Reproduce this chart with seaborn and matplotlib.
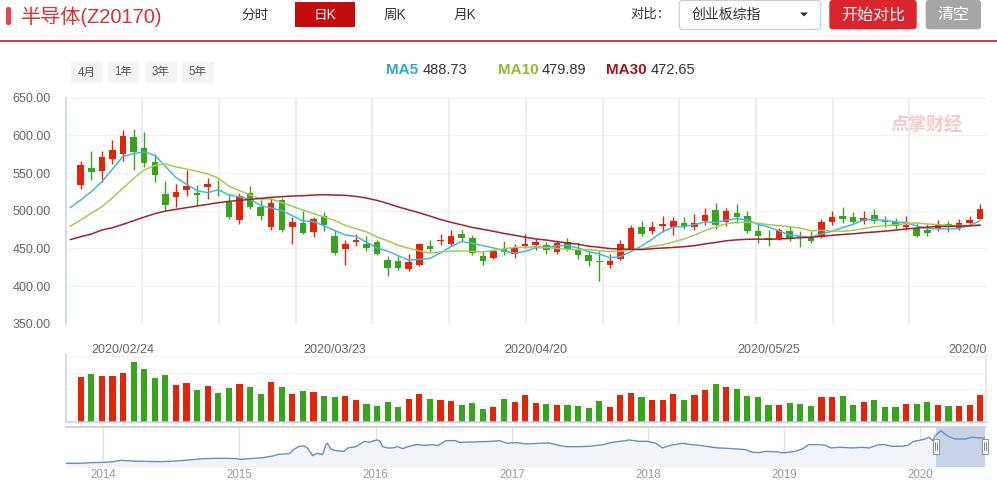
import numpy as np
import pandas as pd
import matplotlib
matplotlib.use("Agg")
import matplotlib.pyplot as plt
import matplotlib.transforms as mtransforms
import matplotlib.dates as mdates
from matplotlib.patches import FancyBboxPatch, Rectangle, Polygon
import seaborn as sns

# ---------------- data ----------------
title = "半导体(Z20170)"
period_tabs = ["分时", "日K", "周K", "月K"]
range_buttons = ["4月", "1年", "3年", "5年"]
compare_label = "对比："
compare_index = "创业板综指"
btn_start = "开始对比"
btn_clear = "清空"
watermark = "点掌财经"

first_day = "2020-02-18"
last_day = "2020-06-22"
holidays = ["2020-04-06", "2020-05-01", "2020-05-04", "2020-05-05"]

opens = [534.5, 556.2, 552.7, 568.6, 575.2, 597.3, 583.6, 564.2, 521.7, 518.1,
         527.4, 523.0, 531.4, 527.9, 511.5, 487.6, 523.0, 504.4, 478.3, 513.7,
         478.3, 483.2, 471.7, 492.9, 465.9, 449.1, 458.4, 455.3, 458.0, 434.1,
         432.7, 422.1, 427.4, 452.7, 459.7, 456.2, 468.6, 463.3, 439.4, 437.2,
         448.7, 442.9, 452.7, 454.4, 454.9, 445.1, 458.8, 449.6, 440.7, 432.7,
         427.4, 435.8, 449.1, 477.9, 473.0, 479.6, 478.0, 483.2, 478.0, 485.8,
         500.4, 485.0, 496.5, 492.5, 472.6, 464.2, 461.9, 472.6, 465.9, 463.3,
         465.0, 485.0, 492.5, 491.1, 486.3, 493.8, 485.8, 484.5, 478.3, 477.0,
         473.9, 475.7, 481.9, 477.0, 483.6, 488.9]
highs = [565.5, 578.8, 578.8, 593.4, 606.6, 608.0, 604.0, 574.8, 538.9, 535.0,
         553.5, 533.6, 542.9, 540.3, 521.7, 523.4, 532.3, 513.7, 516.8, 516.8,
         491.6, 499.1, 491.6, 497.8, 473.9, 460.6, 468.6, 465.9, 461.5, 439.4,
         439.4, 442.9, 457.1, 461.5, 468.6, 473.9, 473.9, 467.3, 446.0, 447.3,
         459.3, 455.3, 468.6, 462.8, 458.0, 459.3, 463.3, 458.8, 446.0, 446.5,
         442.5, 460.6, 480.5, 485.8, 485.8, 492.5, 491.1, 491.1, 495.6, 504.0,
         509.7, 503.1, 508.4, 499.1, 483.6, 473.9, 476.5, 479.2, 472.6, 472.6,
         488.9, 499.1, 504.4, 497.8, 499.1, 501.8, 492.5, 489.8, 492.5, 483.6,
         482.3, 487.2, 485.8, 488.5, 492.5, 508.4]
lows = [528.3, 540.3, 538.0, 562.4, 565.9, 553.5, 558.0, 538.0, 500.4, 504.9,
        519.0, 507.0, 515.5, 519.0, 488.9, 482.7, 502.6, 487.6, 473.9, 471.7,
        455.7, 468.6, 465.0, 473.0, 441.1, 427.9, 453.1, 446.5, 441.1, 413.3,
        420.8, 419.9, 426.1, 444.7, 454.0, 454.0, 459.7, 441.1, 427.9, 435.4,
        441.1, 437.2, 450.0, 447.8, 442.5, 442.5, 447.0, 435.8, 426.5, 406.7,
        423.9, 434.5, 447.3, 465.9, 469.0, 471.7, 467.3, 475.7, 473.9, 480.5,
        475.7, 479.2, 483.6, 470.4, 457.1, 453.1, 460.6, 459.7, 451.8, 457.1,
        464.2, 480.5, 483.6, 482.3, 482.3, 483.6, 478.3, 475.2, 473.9, 465.0,
        466.4, 473.0, 471.7, 473.9, 479.2, 488.5]
closes = [560.2, 551.3, 570.8, 580.1, 598.7, 577.9, 563.3, 547.3, 507.5, 524.3,
          532.3, 520.8, 535.0, 526.1, 491.1, 519.0, 504.9, 492.9, 509.7, 474.8,
          484.5, 470.4, 488.5, 481.0, 443.8, 455.3, 460.6, 450.4, 442.5, 423.9,
          423.9, 431.4, 455.3, 448.7, 460.6, 465.9, 464.2, 444.2, 433.2, 446.0,
          445.1, 450.0, 455.3, 458.0, 447.8, 456.7, 449.6, 441.1, 433.2, 431.9,
          432.7, 455.3, 476.5, 469.0, 477.9, 482.3, 485.8, 479.2, 483.2, 494.2,
          480.5, 499.1, 491.6, 473.0, 466.0, 461.5, 473.9, 464.2, 464.6, 459.3,
          484.5, 491.1, 489.0, 485.0, 489.8, 486.3, 485.0, 479.6, 480.5, 466.9,
          470.4, 481.9, 479.2, 483.2, 487.2, 501.8]
volumes = [45, 48, 46, 46, 49, 60, 53, 44, 47, 37, 39, 32, 36, 29, 34, 38, 35, 28,
           40, 35, 28, 31, 30, 26, 25, 26, 22, 18, 16, 20, 15, 23, 28, 23, 22, 21,
           17, 19, 13, 15, 23, 20, 27, 19, 18, 17, 17, 16, 14, 21, 15, 27, 29, 25,
           22, 22, 28, 22, 27, 32, 38, 35, 33, 26, 25, 17, 17, 19, 18, 16, 25, 25,
           26, 17, 20, 22, 15, 15, 18, 18, 20, 17, 16, 16, 17, 27]

# moving-average values before enough closes are on screen (from 2020-02-17 on)
ma5_head = [504.0, 514.2, 525.3, 538.5, 555.0]
ma10_head = [479.3, 487.7, 496.6, 505.3, 517.0, 530.0, 543.0, 554.0, 560.0, 562.0]
ma30_head = [461.6, 465.5, 469.0, 474.4, 477.4, 481.9, 486.7, 491.6, 496.0, 499.5,
             501.8, 504.0, 506.2, 508.4, 510.6, 512.4, 513.7, 515.0, 516.4, 517.7,
             518.6, 519.5, 519.9, 520.8, 521.2, 520.8, 520.4, 519.0, 516.8, 513.7]
ma_names = ["MA5", "MA10", "MA30"]
ma_latest = ["488.73", "479.89", "472.65"]

date_labels = ["2020/02/24", "2020/03/23", "2020/04/20", "2020/05/25", "2020/06/22"]
price_ticks = [350, 400, 450, 500, 550, 600, 650]

nav_dates = ["2013-09-23", "2013-10-30", "2013-12-04", "2014-01-02", "2014-01-27",
             "2014-02-19", "2014-03-04", "2014-04-09", "2014-06-03", "2014-07-16",
             "2014-08-29", "2014-09-25", "2014-10-31", "2014-11-27", "2014-12-24",
             "2015-01-05", "2015-01-28", "2015-03-05", "2015-04-01", "2015-04-17",
             "2015-05-15", "2015-05-28", "2015-06-11", "2015-06-24", "2015-07-03",
             "2015-07-16", "2015-07-29", "2015-08-12", "2015-08-21", "2015-08-25",
             "2015-09-03", "2015-09-17", "2015-10-08", "2015-10-19", "2015-11-10",
             "2015-12-02", "2015-12-15", "2015-12-28", "2016-01-06", "2016-01-13",
             "2016-01-20", "2016-02-02", "2016-02-15", "2016-02-29", "2016-03-14",
             "2016-03-28", "2016-04-19", "2016-05-16", "2016-06-03", "2016-06-16",
             "2016-07-08", "2016-08-03", "2016-08-12", "2016-09-26", "2016-11-09",
             "2016-11-28", "2016-12-19", "2017-01-11", "2017-02-08", "2017-03-15",
             "2017-04-11", "2017-04-28", "2017-05-26", "2017-06-30", "2017-07-27",
             "2017-09-01", "2017-09-27", "2017-11-02", "2017-11-10", "2017-12-07",
             "2017-12-29", "2018-01-22", "2018-02-08", "2018-02-26", "2018-04-03",
             "2018-04-27", "2018-05-25", "2018-06-21", "2018-07-09", "2018-08-14",
             "2018-09-19", "2018-10-08", "2018-10-25", "2018-11-12", "2018-12-17",
             "2018-12-28", "2019-01-31", "2019-02-18", "2019-03-07", "2019-04-03",
             "2019-04-22", "2019-05-06", "2019-05-28", "2019-07-02", "2019-07-29",
             "2019-08-16", "2019-09-11", "2019-09-27", "2019-10-17", "2019-11-12",
             "2019-11-29", "2019-12-13", "2019-12-26", "2020-01-14", "2020-01-23",
             "2020-02-03", "2020-02-10", "2020-02-25", "2020-03-04", "2020-03-17",
             "2020-04-03", "2020-04-30", "2020-05-19", "2020-06-05", "2020-06-22"]
nav_values = [157, 157, 166, 170, 179, 197, 192, 184, 179, 188,
              206, 219, 223, 223, 219, 210, 219, 232, 254, 277,
              285, 347, 383, 387, 356, 259, 290, 272, 405, 423,
              347, 325, 316, 361, 378, 449, 436, 458, 467, 449,
              378, 361, 361, 378, 352, 378, 405, 396, 405, 392,
              458, 458, 436, 441, 449, 458, 423, 432, 414, 423,
              427, 405, 378, 378, 383, 405, 436, 458, 467, 449,
              449, 423, 361, 392, 423, 405, 392, 370, 361, 352,
              339, 303, 299, 316, 308, 294, 316, 347, 405, 405,
              396, 361, 370, 361, 370, 361, 405, 405, 383, 383,
              396, 449, 458, 480, 503, 458, 525, 591, 556, 511,
              480, 480, 503, 494, 494]
nav_years = [2014, 2015, 2016, 2017, 2018, 2019, 2020]

# ---------------- style ----------------
sns.set_theme(style="white")
plt.rcParams["font.family"] = ["Liberation Sans", "Noto Sans CJK SC", "DejaVu Sans"]
plt.rcParams["axes.unicode_minus"] = False

RED = "#e0250b"
GREEN = "#36a51c"
MA_COLORS = ["#45b8df", "#a6ca55", "#a3212b"]
MA_TEXT_COLORS = ["#2aa8d5", "#8cbd2c", "#a0161f"]
AXIS_BLUE = "#c5d1e4"

W, H = 997, 482
fig = plt.figure(figsize=(W / 100, H / 100), dpi=100)
fig.patch.set_facecolor("white")


def box(l, t, r, b):
    return [l / W, 1 - b / H, (r - l) / W, (b - t) / H]


n = len(closes)
idx = np.arange(n)
o = np.array(opens)
c = np.array(closes)
hi = np.array(highs)
lo = np.array(lows)
up = c >= o
cols = np.where(up, RED, GREEN)

dates = pd.bdate_range(first_day, last_day, freq="C", holidays=holidays)
date_str = list(dates.strftime("%Y/%m/%d"))

XL = (-1.42, n - 0.45)

# ---------------- candlestick panel ----------------
ax = fig.add_axes(box(65.7, 97.7, 986, 323.7))
ax.set_facecolor("white")
for t in price_ticks:
    ax.axhline(t, color="#f2f2f2", lw=0.8, zorder=0)
ax.vlines(np.linspace(0, 1, 13)[1:-1], 0, 1, transform=ax.transAxes,
          colors="#e7ecf3", lw=1.3, zorder=0)
ax.text(0.935, 0.875, watermark, transform=ax.transAxes, color="#f5caca",
        fontsize=13, fontweight="bold", ha="center", va="center", zorder=0.5)

ax.vlines(idx, lo, hi, colors=cols, lw=1.0, zorder=2)
body_bottom = np.minimum(o, c)
body_h = np.maximum(np.abs(c - o), 1.3)
ax.bar(idx, body_h, bottom=body_bottom, width=0.62, color=cols, linewidth=0, zorder=3)

s = pd.Series(closes)
xm = np.arange(-1, n)
ma5 = np.concatenate([ma5_head, s.rolling(5).mean().values[4:]])
ma10 = np.concatenate([ma10_head, s.rolling(10).mean().values[9:]])
ma30 = np.concatenate([ma30_head, s.rolling(30).mean().values[29:]])
for series, col in zip([ma5, ma10, ma30], MA_COLORS):
    sns.lineplot(x=xm, y=series, ax=ax, color=col, lw=1.1, zorder=4)

ax.set_xlim(*XL)
ax.set_ylim(price_ticks[0], price_ticks[-1])
ax.set_yticks(price_ticks)
ax.set_yticklabels([f"{t:.2f}" for t in price_ticks])
ax.set_xticks([])
ax.tick_params(axis="y", length=0, pad=10.8, labelsize=9, labelcolor="#666666")
for sp in ["top", "right", "bottom"]:
    ax.spines[sp].set_visible(False)
ax.spines["left"].set_color(AXIS_BLUE)
ax.spines["left"].set_linewidth(1.1)
ax.set_xlabel("")
ax.set_ylabel("")

# ---------------- volume panel ----------------
axv = fig.add_axes(box(65.7, 355, 986, 422))
vol_df = pd.DataFrame({"i": idx, "vol": volumes, "dir": np.where(up, "up", "down")})
for g in [16.5, 33, 49.5, 66]:
    axv.axhline(g, color="#f2f2f2", lw=0.8, zorder=0)
sns.barplot(data=vol_df, x="i", y="vol", hue="dir", palette={"up": RED, "down": GREEN},
            dodge=False, width=0.58, saturation=1, errorbar=None, legend=False,
            linewidth=0, ax=axv, zorder=2)
axv.set_xlim(*XL)
axv.set_ylim(0, 67)
axv.set_xticks([])
axv.set_yticks([])
axv.set_xlabel("")
axv.set_ylabel("")
for sp in ["top"]:
    axv.spines[sp].set_visible(False)
axv.spines["right"].set_color("#e3e8f0")
for sp in ["left", "bottom"]:
    axv.spines[sp].set_color(AXIS_BLUE)
    axv.spines[sp].set_linewidth(1.1)

clip = mtransforms.TransformedBbox(mtransforms.Bbox([[0, 0], [986 / W, 1]]), fig.transFigure)
trans_v = mtransforms.blended_transform_factory(axv.transData, axv.transAxes)
for lab in date_labels:
    pos = date_str.index(lab)
    t = axv.text(pos, 1 + 5 / 67, lab, transform=trans_v, ha="center", va="center",
                 fontsize=9, color="#666666")
    t.set_clip_box(clip)
    t.set_clip_on(True)

# ---------------- navigator ----------------
axn = fig.add_axes(box(66, 427.3, 985, 467))
nd = pd.to_datetime(nav_dates)
ymin_n, ymax_n = 108, 635
axn.set_ylim(ymin_n, ymax_n)
axn.set_xlim(nd[0], nd[-1])
axn.fill_between(nd, nav_values, ymin_n, color="#f2f4f9", zorder=1, linewidth=0)
sel_start = dates[0] - pd.Timedelta(days=6)
axn.axvspan(sel_start, nd[-1], color="#c8d3e7", zorder=2, linewidth=0)
sns.lineplot(x=nd, y=nav_values, ax=axn, color="#6a8ec3", lw=1.0, zorder=3)
year_pos = pd.to_datetime([f"{y}-01-01" for y in nav_years])
axn.set_xticks(year_pos)
axn.set_xticklabels([str(y) for y in nav_years])
axn.set_yticks([])
axn.grid(axis="x", color="#e1e1e1", lw=1.0)
axn.set_axisbelow(True)
axn.tick_params(axis="x", length=0, pad=1.5, labelsize=8.3, labelcolor="#9a9a9a")
axn.set_xlabel("")
axn.set_ylabel("")
for sp in ["left", "right", "bottom"]:
    axn.spines[sp].set_visible(False)
axn.spines["top"].set_color("#cccccc")
axn.spines["top"].set_linewidth(1.2)

trans_n = mtransforms.blended_transform_factory(axn.transData, axn.transAxes)
hw = 9.0  # days, half-width of the scroll handles
for xc in [mdates.date2num(sel_start), mdates.date2num(nd[-1])]:
    r = Rectangle((xc - hw, 0.33), 2 * hw, 0.38, transform=trans_n, facecolor="white",
                  edgecolor="#999999", lw=0.8, zorder=5, clip_on=False)
    axn.add_patch(r)
    for dx in (-2.5, 2.5):
        axn.plot([xc + dx, xc + dx], [0.42, 0.62], transform=trans_n, color="#888888",
                 lw=0.7, zorder=6, clip_on=False)

# ---------------- header (drawn in pixel space) ----------------
ov = fig.add_axes([0, 0, 1, 1], zorder=10)
ov.set_xlim(0, W)
ov.set_ylim(H, 0)
ov.axis("off")


def rbox(x0, y0, x1, y1, fc, ec="none", r=3, lw=0.8):
    p = FancyBboxPatch((x0, y0), x1 - x0, y1 - y0,
                       boxstyle=f"round,pad=0,rounding_size={r}",
                       facecolor=fc, edgecolor=ec, lw=lw)
    ov.add_patch(p)


rbox(6, 7, 11, 25, "#e8474d", r=2)
ov.text(20.5, 16.5, title, color="#dc2f37", fontsize=14.5, ha="left", va="center")
ov.plot([0, W], [40.7, 40.7], color="#d8262e", lw=1.3)

tab_x = [255, 325, 395, 465]
ov.add_patch(Rectangle((295, 2), 60, 24.7, facecolor="#c40c0c", edgecolor="none"))
for tx, lab in zip(tab_x, period_tabs):
    ov.text(tx, 15, lab, color="white" if lab == "日K" else "#333333",
            fontsize=9.8, ha="center", va="center")

ov.text(630, 15, compare_label, color="#333333", fontsize=9.6, ha="left", va="center")
rbox(679.3, 0.5, 820.7, 29.3, "white", ec="#cccccc", r=3)
ov.text(692, 15, compare_index, color="#333333", fontsize=10, ha="left", va="center")
ov.add_patch(Polygon([[800, 12.5], [808, 12.5], [804, 16.5]], closed=True,
                     facecolor="#333333", edgecolor="none"))
rbox(829.3, 0, 916.7, 29.3, "#d9262e", r=3)
ov.text(873, 15, btn_start, color="white", fontsize=11.5, ha="center", va="center")
rbox(925.7, 0, 981, 29.3, "#a6a6a6", r=3)
ov.text(953.3, 15, btn_clear, color="white", fontsize=11.5, ha="center", va="center")

btn_l = [71, 107.7, 145, 182]
for bl, lab in zip(btn_l, range_buttons):
    ov.add_patch(Rectangle((bl, 61.7), 31.7, 21.6, facecolor="#f4f4f4", edgecolor="none"))
    ov.text(bl + 15.85, 72.5, lab, color="#555555", fontsize=8.3, ha="center", va="center")

name_x = [386, 498, 606]
value_x = [423, 542, 651]
for nx, vx, nm, val, col in zip(name_x, value_x, ma_names, ma_latest, MA_TEXT_COLORS):
    ov.text(nx, 70.5, nm, color=col, fontsize=11, fontweight="bold", ha="left", va="center")
    ov.text(vx, 70.5, val, color="#333333", fontsize=10.5, ha="left", va="center")

fig.savefig("out.png", dpi=100, facecolor="white")
